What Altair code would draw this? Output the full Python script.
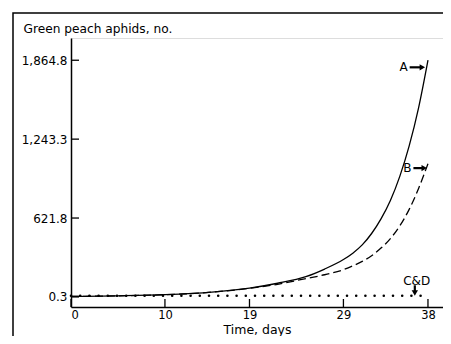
import altair as alt
import pandas as pd

# ---- data ----
days = [0, 5, 10, 15, 19, 22, 25, 27, 29, 30, 31, 32, 33, 34, 35, 36, 37, 38]
a_counts = [4, 9, 18, 38, 70, 108, 160, 220, 295, 345, 410, 500, 615, 760, 950, 1190, 1490, 1865]
b_counts = [4, 9, 18, 38, 68, 100, 145, 175, 215, 245, 280, 325, 385, 460, 560, 690, 855, 1050]
cd_days = [0, 38]
cd_counts = [10, 10]

x_ticks = [0, 10, 19, 29, 38]
y_ticks = [0.3, 621.8, 1243.3, 1864.8]

# annotation labels (data units)
ann_text = ["A", "B", "C&D"]
ann_day = [35.4, 35.8, 36.8]
ann_val = [1809, 1015, 126]

W, H = 372, 269
PL, PT, PR, PB = 63, 30, 0, 29
FONT = "DejaVu Sans"

curves = pd.DataFrame({
    "day": days * 2,
    "count": a_counts + b_counts,
    "series": ["A"] * len(days) + ["B"] * len(days),
})
cd = pd.DataFrame({"day": cd_days, "count": cd_counts})

xs = alt.Scale(domain=[0, 39.6], nice=False, zero=False)
ys = alt.Scale(domain=[-79, 2040], nice=False, zero=False)

base = alt.Chart(curves)

line_a = base.transform_filter(alt.datum.series == "A").mark_line(
    color="black", strokeWidth=1.3, interpolate="monotone"
).encode(
    x=alt.X("day:Q", scale=xs,
            axis=alt.Axis(values=x_ticks, format="d", ticks=False, grid=False,
                          domainColor="black", domainWidth=1.5,
                          labelFont=FONT, labelFontSize=11.5, labelColor="black",
                          labelPadding=2, title="Time, days", titleFont=FONT,
                          titleFontSize=12.5, titleFontWeight="normal",
                          titleColor="black", titleBaseline="alphabetic",
                          titleY=26)),
    y=alt.Y("count:Q", scale=ys,
            axis=alt.Axis(values=y_ticks, format=",.1f", ticks=False, grid=False,
                          domainColor="black", domainWidth=1.5,
                          labelFont=FONT, labelFontSize=12, labelColor="black",
                          labelPadding=4, title="Green peach aphids, no.",
                          titleFont=FONT, titleFontSize=12.2,
                          titleFontWeight="normal", titleColor="black",
                          titleAngle=0, titleAlign="left",
                          titleBaseline="alphabetic", titleX=-48, titleY=-6)),
)

line_b = base.transform_filter(alt.datum.series == "B").mark_line(
    color="black", strokeWidth=1.3, strokeDash=[8, 4], interpolate="monotone"
).encode(x=alt.X("day:Q", scale=xs), y=alt.Y("count:Q", scale=ys))

dots = alt.Chart(cd).mark_line(
    color="black", strokeWidth=2.6, strokeDash=[0, 9.2], strokeCap="round"
).encode(x=alt.X("day:Q", scale=xs), y=alt.Y("count:Q", scale=ys))

# inside ticks
xt = alt.Chart(pd.DataFrame({"t": x_ticks})).mark_rule(color="black", strokeWidth=1.3).encode(
    x=alt.X("t:Q", scale=xs), y=alt.value(H), y2=alt.value(H - 8))
yt = alt.Chart(pd.DataFrame({"t": y_ticks})).mark_rule(color="black", strokeWidth=1.3).encode(
    y=alt.Y("t:Q", scale=ys), x=alt.value(0), x2=alt.value(8))

ann = pd.DataFrame({"label": ann_text, "day": ann_day, "count": ann_val})
labels = alt.Chart(ann).mark_text(font=FONT, fontSize=12, color="black").encode(
    x=alt.X("day:Q", scale=xs), y=alt.Y("count:Q", scale=ys), text="label:N")

# arrows
arr_h = pd.DataFrame({"x1": [36.05, 36.45], "x2": [37.4, 37.6], "v": [1809, 1015]})
shaft_h = alt.Chart(arr_h).mark_rule(color="black", strokeWidth=2.2).encode(
    x=alt.X("x1:Q", scale=xs), x2="x2:Q", y=alt.Y("v:Q", scale=ys))
head_h = alt.Chart(arr_h).mark_point(shape="triangle-right", filled=True, color="black",
                                     size=40, opacity=1).encode(
    x=alt.X("x2:Q", scale=xs), y=alt.Y("v:Q", scale=ys))
arr_v = pd.DataFrame({"x": [36.6], "v1": [92], "v2": [32]})
shaft_v = alt.Chart(arr_v).mark_rule(color="black", strokeWidth=2.2).encode(
    x=alt.X("x:Q", scale=xs), y=alt.Y("v1:Q", scale=ys), y2="v2:Q")
head_v = alt.Chart(arr_v).mark_point(shape="triangle-down", filled=True, color="black",
                                     size=40, opacity=1).encode(
    x=alt.X("x:Q", scale=xs), y=alt.Y("v2:Q", scale=ys))

# outer frame (only its top and left edges fall inside the canvas)
one = pd.DataFrame({"k": [0]})
frame = alt.Chart(one).mark_rect(fill=None, stroke="black", strokeWidth=1.5).encode(
    x=alt.value(-58), x2=alt.value(W + 60), y=alt.value(-25), y2=alt.value(H + PB + 60))

chart = alt.layer(
    frame, dots, line_b, line_a, xt, yt, labels,
    shaft_h, head_h, shaft_v, head_v
).properties(
    width=W, height=H,
    autosize=alt.AutoSizeParams(type="none"),
    padding={"left": PL, "top": PT, "right": PR, "bottom": PB},
).configure_view(stroke=None).configure(background="white")

chart.save("out.html", embed_options={"renderer": "svg", "actions": False})
